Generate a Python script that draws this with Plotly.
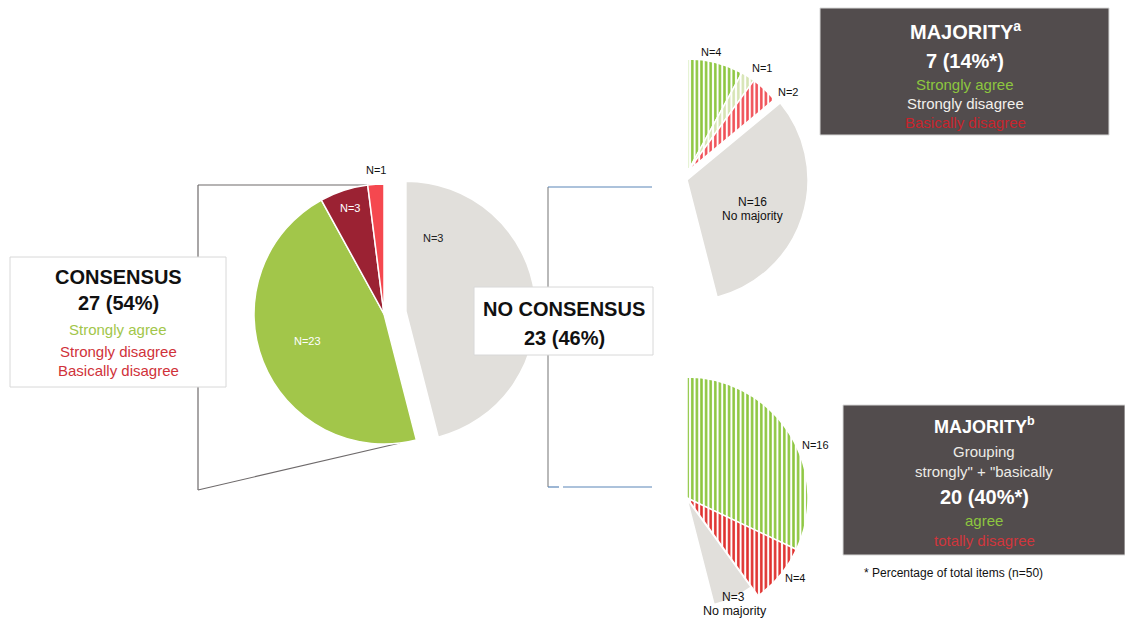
import plotly.graph_objects as go

W, H = 1125, 619
FONT = "Liberation Sans, Arial, Helvetica, sans-serif"
CLEAR = "rgba(0,0,0,0)"
GREY = "#E1DFDB"

# ---------------- data ----------------
main_labels = ["No consensus", "Strongly agree", "Strongly disagree", "Basically disagree"]
main_values = [23, 23, 3, 1]
main_colors = [GREY, "#A2C64A", "#9B2233", "#F5484F"]
main_pull = [0.17, 0, 0, 0]
main_text = ["N=3", "N=23", "N=3", "N=1"]

maj_a_labels = ["Strongly agree", "Strongly disagree", "Basically disagree", "No majority"]
maj_a_values = [4, 1, 2, 16]
maj_a_colors = ["#8DC63F", "#D6E4B3", "#F04E55", GREY]
maj_a_text = ["N=4", "N=1", "N=2", "N=16", "No majority"]

maj_b_labels = ["Agree", "Totally disagree", "No majority"]
maj_b_values = [16, 4, 3]
maj_b_colors = ["#8DC63F", "#E0302E", GREY]
maj_b_text = ["N=16", "N=4", "N=3", "No majority"]

total_items = sum(main_values)  # 50


def px(x):
    return x / W


def py(y):
    return 1 - y / H


def dom(cx, cy, r):
    return dict(x=[max(0, px(cx - r)), min(1, px(cx + r))],
                y=[max(0, py(cy + r)), min(1, py(cy - r))])


fig = go.Figure()

# main pie
fig.add_trace(go.Pie(
    labels=main_labels, values=main_values, sort=False, direction="clockwise", rotation=0,
    marker=dict(colors=main_colors, line=dict(color="white", width=1.5)),
    pull=main_pull, textinfo="none", hoverinfo="label+value",
    domain=dom(384, 314, 130 * 1.17), showlegend=False,
))


def striped_trace(labels, values, colors, cx, cy, r):
    """Striped slices of a sub-pie; the rest of the 50 items stays transparent."""
    vals = list(values) + [total_items - sum(values)]
    labs = list(labels) + ["other"]
    cols = list(colors) + [CLEAR]
    n = len(values)
    return go.Pie(
        labels=labs, values=vals, sort=False, direction="clockwise", rotation=0,
        marker=dict(
            colors=cols,
            line=dict(color=["white"] * n + [CLEAR], width=[1.5] * n + [0]),
            pattern=dict(shape=["|"] * n + [""], fgcolor=cols,
                         bgcolor=["white"] * n + [CLEAR],
                         size=4.6, solidity=0.55, fillmode="replace"),
        ),
        textinfo="none", hoverinfo="label+value", domain=dom(cx, cy, r), showlegend=False,
    )


def grey_trace(label, before, value, cx, cy, r):
    vals = [before, value, total_items - before - value]
    return go.Pie(
        labels=["before", label, "after"], values=vals, sort=False, direction="clockwise", rotation=0,
        marker=dict(colors=[CLEAR, GREY, CLEAR],
                    line=dict(color=[CLEAR, "white", CLEAR], width=[0, 1.5, 0])),
        textinfo="none", hoverinfo="label+value", domain=dom(cx, cy, r), showlegend=False,
    )


# majority a sub-pie
fig.add_trace(grey_trace(maj_a_labels[3], sum(maj_a_values[:3]), maj_a_values[3], 687, 180, 121))
fig.add_trace(striped_trace(maj_a_labels[:3], maj_a_values[:3], maj_a_colors[:3], 688, 171, 112))

# majority b sub-pie
fig.add_trace(grey_trace(maj_b_labels[2], sum(maj_b_values[:2]), maj_b_values[2], 687, 499, 109))
fig.add_trace(striped_trace(maj_b_labels[:2], maj_b_values[:2], maj_b_colors[:2], 687, 498, 121))

shapes = []


def line(x0, y0, x1, y1, color="#6E6A6B", width=1.2):
    shapes.append(dict(type="line", xref="paper", yref="paper", x0=px(x0), y0=py(y0),
                       x1=px(x1), y1=py(y1), line=dict(color=color, width=width), layer="below"))


def rect(x0, y0, x1, y1, fill, border="#D8D8D8"):
    shapes.append(dict(type="rect", xref="paper", yref="paper", x0=px(x0), y0=py(y0),
                       x1=px(x1), y1=py(y1), fillcolor=fill, line=dict(color=border, width=1),
                       layer="above"))


# left bracket
line(198, 185, 380, 185)
line(198, 185, 198, 490)
line(198, 490, 400, 443)
# right bracket
line(548, 187, 548, 487, color="#8A8A8A")
line(548, 187, 652, 187, color="#5A86B8")
line(548, 487, 559, 487, color="#5A86B8")
line(563, 487, 652, 487, color="#5A86B8")

# boxes
rect(10, 257, 226, 387, "white")
rect(474, 287, 653, 355, "white")
rect(820, 8, 1109, 135, "#524C4D")
rect(843, 405, 1125, 555, "#524C4D")

annotations = []


def txt(x, y, text, size=15, color="#111", bold=False, xanchor="center"):
    t = f"<b>{text}</b>" if bold else text
    annotations.append(dict(x=px(x), y=py(y), xref="paper", yref="paper", text=t, showarrow=False,
                            xanchor=xanchor, yanchor="middle",
                            font=dict(family=FONT, size=size, color=color)))


# CONSENSUS box
txt(118, 277, "CONSENSUS", 20, "#111", True)
txt(118, 303, "27 (54%)", 20, "#111", True)
txt(118, 329, "Strongly agree", 15, "#A2C64A")
txt(118, 351, "Strongly disagree", 15, "#D0323A")
txt(118, 370, "Basically disagree", 15, "#D0323A")

# NO CONSENSUS box
txt(564, 309, "NO CONSENSUS", 20, "#111", True)
txt(564, 338, "23 (46%)", 20, "#111", True)

# MAJORITY a box
txt(965, 31, "MAJORITY<sup>a</sup>", 20, "white", True)
txt(965, 61, "7 (14%*)", 20, "white", True)
txt(965, 85, "Strongly agree", 15, "#8DC63F")
txt(965, 104, "Strongly disagree", 15, "#F2F0EC")
txt(965, 123, "Basically disagree", 15, "#C8242C")

# MAJORITY b box
txt(984, 425, "MAJORITY<sup>b</sup>", 18, "white", True)
txt(984, 451, "Grouping", 15, "#EDEBE6")
txt(984, 471, "strongly\" + \"basically", 15, "#EDEBE6")
txt(984, 497, "20 (40%*)", 20, "white", True)
txt(984, 520, "agree", 15, "#8DC63F")
txt(984, 540, "totally disagree", 15, "#D0363C")
txt(862, 573, "* Percentage of total items (n=50)", 12, "#111", xanchor="left")

# main pie labels
txt(376, 170, main_text[3], 11, "#111")
txt(350, 208, main_text[2], 11, "white")
txt(307, 341, main_text[1], 11, "white")
txt(433, 238, main_text[0], 11, "#222")

# majority a labels
txt(712, 52, maj_a_text[0], 11, "#111")
txt(762, 68, maj_a_text[1], 11, "#111")
txt(788, 92, maj_a_text[2], 11, "#111")
txt(752, 202, maj_a_text[3], 12, "#111")
txt(752, 216, maj_a_text[4], 12, "#111")

# majority b labels
txt(815, 445, maj_b_text[0], 11, "#111")
txt(795, 578, maj_b_text[1], 11, "#111")
txt(733, 597, maj_b_text[2], 12, "#111")
txt(735, 611, maj_b_text[3], 12.5, "#111")

fig.update_layout(
    width=W, height=H, margin=dict(l=0, r=0, t=0, b=0),
    paper_bgcolor="white", plot_bgcolor="white",
    shapes=shapes, annotations=annotations, showlegend=False,
    font=dict(family=FONT),
)

fig.write_html("out.html", config={"displayModeBar": False},
               post_script="document.body.style.margin='0';document.body.style.overflow='hidden';")
